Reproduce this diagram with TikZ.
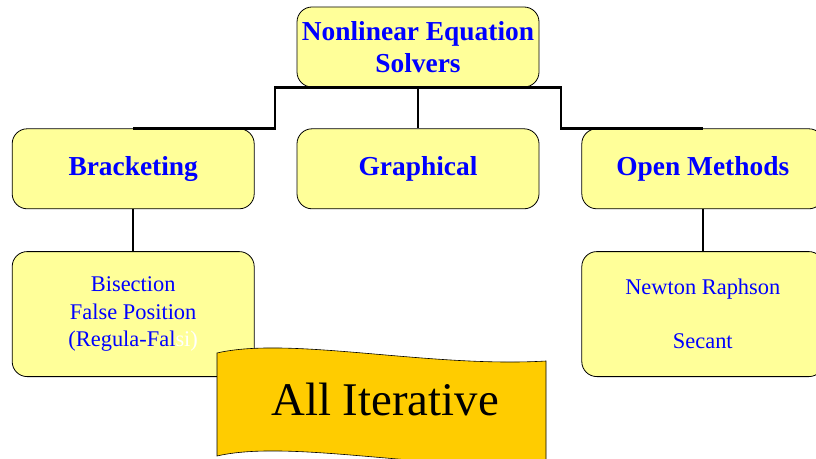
\documentclass[tikz,border=0pt]{standalone}
\usepackage{fontspec}
\setmainfont{Liberation Serif}
\usetikzlibrary{positioning}

\definecolor{boxyellow}{RGB}{255,255,153}
\definecolor{bannergold}{RGB}{255,204,0}
\definecolor{textblue}{RGB}{0,0,255}

\begin{document}
\begin{tikzpicture}[x=1bp,y=-1bp,
					node distance=41bp and 42bp,
					solver box/.style={rectangle,draw,line width=0.8bp,fill=boxyellow,
					                   rounded corners=15bp,text=textblue,align=center,
					                   minimum width=242bp,minimum height=80bp,inner sep=0pt},
					head/.style={font=\bfseries\fontsize{27.5}{32}\selectfont},
					method/.style={font=\fontsize{22.5}{27.5}\selectfont,minimum height=125bp},
					branch/.style={line width=2.5bp}]

  \useasboundingbox (0,0) rectangle (816,459);
  \clip (0,0) rectangle (816,459);

  \node[solver box,head] (top) at (418,47) {Nonlinear Equation\\Solvers};
  \node[solver box,head] (graph) [below=of top] {Graphical};
  \node[solver box,head] (brack) [left=of graph] {Bracketing};
  \node[solver box,head] (open) [right=of graph] {Open Methods};
  \node[solver box,method] (bisect) [below=42bp of brack]
    {Bisection\\False Position\\(Regula-Fal{\color{white}si)}};
  \node[solver box,method] (newton) [below=42bp of open]
    {Newton Raphson\\[27bp]Secant};

  \draw[branch] (brack.north) -- ++(142bp,0) |- (top.south)
    -| ([xshift=-142bp]open.north) -- (open.north);
  \draw[branch] (top) -- (graph);
  \draw[branch] (brack) -- (bisect);
  \draw[branch] (open) -- (newton);

  % banner
  \fill[bannergold,draw=black,line width=0.6bp]
    (217,353) .. controls (290,336) and (430,368) .. (546,361)
    -- (546,464) .. controls (430,471) and (290,439) .. (217,456) -- cycle;
  \node[font=\fontsize{47}{50}\selectfont] (iter) at (385,399) {All Iterative};
\end{tikzpicture}
\end{document}
